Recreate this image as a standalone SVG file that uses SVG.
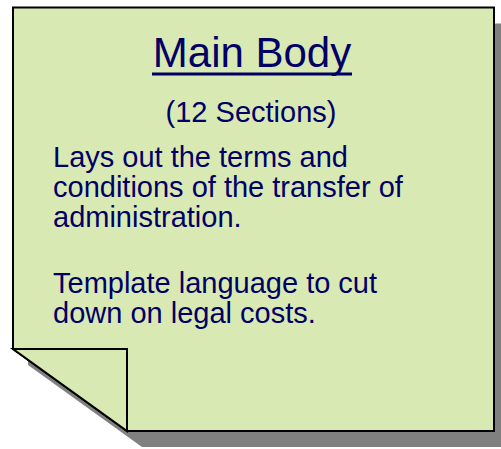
<svg xmlns="http://www.w3.org/2000/svg" width="501" height="449" viewBox="0 0 501 449">
<style>
.note{fill:#d9e9b3;stroke:#000;stroke-width:2;stroke-linejoin:miter}
.shadow{fill:#808080}
.t{font-family:"Liberation Sans",Arial,sans-serif;fill:#000066}
</style>
<g id="note">
<path class="shadow" d="M28,23.5 H509 V447 H142 L28,365 Z"/>
<path class="note" d="M13,7.5 H494 V431 H127 L13,349 Z"/>
<path class="note" d="M13,349 H127 V431 Z"/>
<text class="t" x="252" y="67" font-size="42" text-anchor="middle">Main Body</text>
<line x1="152" y1="74" x2="352" y2="74" stroke="#000066" stroke-width="3"/>
<text class="t" x="251" y="122" font-size="29" text-anchor="middle">(12 Sections)</text>
<text class="t" font-size="29">
<tspan x="53" y="167">Lays out the terms and</tspan>
<tspan x="53" y="197">conditions of the transfer of</tspan>
<tspan x="53" y="227">administration.</tspan>
<tspan x="53" y="293">Template language to cut</tspan>
<tspan x="53" y="323">down on legal costs.</tspan>
</text>
</g>
</svg>
